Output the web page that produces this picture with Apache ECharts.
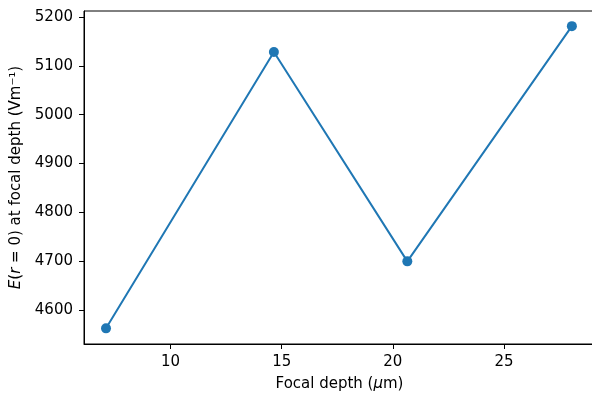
<!DOCTYPE html>
<html>
<head>
<meta charset="utf-8">
<script src="https://cdn.jsdelivr.net/npm/echarts@6/dist/echarts.min.js"></script>
<style>
html,body{margin:0;padding:0;background:#fff;overflow:hidden;}
#chart{width:592px;height:393px;}
</style>
</head>
<body>
<div id="chart"></div>
<script>
// Data
const focalDepth = [7.1, 14.65, 20.65, 28.05];
const fieldAtFocus = [4563, 5128, 4700, 5181];
const xTicks = [10, 15, 20, 25];
const yTicks = [4600, 4700, 4800, 4900, 5000, 5100, 5200];

const FONT = 'DejaVu Sans';
const FS = 15;

const chart = echarts.init(document.getElementById('chart'), null, {renderer: 'canvas'});
chart.setOption({
  animation: false,
  backgroundColor: '#fff',
  grid: {left: 84, top: 11, width: 511, height: 333, show: true, borderColor: '#000', borderWidth: 1,
         containLabel: false, outerBoundsMode: 'none'},
  xAxis: {
    type: 'value',
    min: 6.11, max: 29.09,
    name: '{n|Focal depth (}{i|μ}{n|m)}',
    nameLocation: 'middle',
    nameGap: 33,
    nameTextStyle: {
      rich: {
        n: {fontFamily: FONT, fontSize: FS, color: '#000'},
        i: {fontFamily: FONT, fontSize: FS, fontStyle: 'italic', color: '#000'}
      }
    },
    axisLine: {onZero: false, lineStyle: {color: '#000', width: 1}},
    axisTick: {show: true, inside: false, length: 5, lineStyle: {color: '#000', width: 1}, customValues: xTicks},
    axisLabel: {fontFamily: FONT, fontSize: FS, color: '#000', margin: 11, customValues: xTicks, formatter: v => String(v)},
    splitLine: {show: false}
  },
  yAxis: {
    type: 'value',
    min: 4531, max: 5212,
    name: '{i|E}{n|(}{i|r}{n| = 0) at focal depth (Vm⁻¹)}',
    nameLocation: 'middle',
    nameGap: 58,
    nameRotate: 90,
    nameTextStyle: {
      rich: {
        n: {fontFamily: FONT, fontSize: FS, color: '#000'},
        i: {fontFamily: FONT, fontSize: FS, fontStyle: 'italic', color: '#000'}
      }
    },
    axisLine: {onZero: false, show: true, lineStyle: {color: '#000', width: 1}},
    axisTick: {show: true, inside: false, length: 5, lineStyle: {color: '#000', width: 1}, customValues: yTicks},
    axisLabel: {fontFamily: FONT, fontSize: FS, color: '#000', margin: 11, customValues: yTicks, formatter: v => String(v)},
    splitLine: {show: false}
  },
  series: [{
    type: 'line',
    data: focalDepth.map((x, i) => [x, fieldAtFocus[i]]),
    symbol: 'circle',
    symbolSize: 10,
    showAllSymbol: true,
    lineStyle: {color: '#1f77b4', width: 2},
    itemStyle: {color: '#1f77b4'},
    clip: false
  }]
});
</script>
</body>
</html>
